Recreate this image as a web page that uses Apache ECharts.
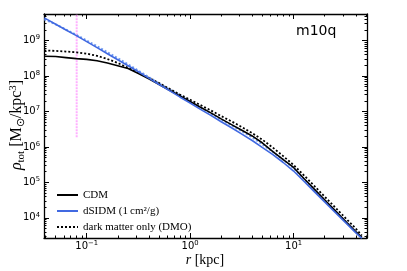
<!DOCTYPE html>
<html><head><meta charset="utf-8">
<script src="https://cdn.jsdelivr.net/npm/echarts@6/dist/echarts.min.js"></script>
<style>html,body{margin:0;padding:0;background:#fff}#c{width:407px;height:271px}</style>
</head><body><div id="c"></div>
<script>
// log10(r / kpc)
const logR = [-1.41,-1.3,-1.2,-1.1,-1.0,-0.9,-0.8,-0.7,-0.6,-0.5,-0.4,-0.3,-0.2,-0.1,0,0.1,0.2,0.3,0.4,0.5,0.6,0.7,0.8,0.9,1.0,1.1,1.2,1.3,1.4,1.5,1.6,1.66];
// log10(rho_tot / (Msun/kpc^3))
const logRhoCDM = [8.56,8.55,8.52,8.49,8.47,8.43,8.37,8.29,8.21,8.07,7.92,7.76,7.60,7.44,7.28,7.12,6.96,6.79,6.63,6.47,6.31,6.11,5.87,5.64,5.42,5.11,4.81,4.51,4.21,3.91,3.61,3.45];
const logRhoSIDM = [9.64,9.46,9.30,9.14,8.97,8.80,8.63,8.46,8.29,8.12,7.94,7.76,7.59,7.41,7.24,7.06,6.89,6.71,6.54,6.36,6.18,5.98,5.78,5.56,5.32,5.03,4.74,4.45,4.16,3.87,3.58,3.42];
const logRhoDMO = [8.72,8.71,8.69,8.67,8.63,8.57,8.48,8.37,8.23,8.09,7.95,7.80,7.64,7.48,7.33,7.18,7.03,6.87,6.72,6.56,6.39,6.20,5.98,5.74,5.49,5.20,4.90,4.60,4.30,4.00,3.70,3.50];
const logRhoSIDMDMO = [9.60,9.46,9.31,9.16,9.00,8.84,8.67,8.50,8.33,8.15,7.97,7.79,7.62,7.45,7.28,7.11,6.94,6.77,6.61,6.44,6.27,6.07,5.86,5.64,5.40,5.10,4.80,4.50,4.20,3.91,3.62,3.44];
const pinkLogR = [-1.097, -1.097];
const pinkLogRho = [6.27, 9.75];
const xMajor = [-1, 0, 1];
const yMajor = [4, 5, 6, 7, 8, 9];
const xRange = [-1.413, 1.71];
const yRange = [3.43, 9.75];
const legendNames = ['CDM', 'dSIDM (1\u2009cm\u00B2/g)', 'dark matter only (DMO)'];
const panelLabel = 'm10q';

function minorTicks(r) {
  const out = [];
  for (let n = Math.floor(r[0]); n <= Math.ceil(r[1]); n++) {
    for (let k = 2; k <= 9; k++) { const v = n + Math.log10(k); if (v > r[0] && v < r[1]) out.push(v); }
  }
  return out;
}
const supLabel = v => '{b|10}{s|' + String(v).replace('-', '\u2212') + '}';
const labelRich = {
  b: { fontSize: 10, fontFamily: 'DejaVu Sans', color: '#000', lineHeight: 13 },
  s: { fontSize: 6.8, fontFamily: 'DejaVu Sans', color: '#000', lineHeight: 8, verticalAlign: 'top' }
};
function mkAxis(pos, range, ticks, len, showLine, labels, margin) {
  return {
    type: 'value', position: pos, min: range[0], max: range[1],
    axisLine: { show: showLine, onZero: false, lineStyle: { color: '#000', width: 1.3 } },
    axisTick: { show: true, inside: true, length: len, customValues: ticks, lineStyle: { color: '#000', width: 1 } },
    axisLabel: labels ? { show: true, customValues: labels, formatter: supLabel, rich: labelRich, margin: margin } : { show: false },
    splitLine: { show: false }
  };
}
const xMinor = minorTicks(xRange), yMinor = minorTicks(yRange);
const zip = (a, b) => a.map((x, i) => [x, b[i]]);

const chart = echarts.init(document.getElementById('c'), null, { renderer: 'canvas' });
chart.setOption({
  animation: false,
  grid: { left: 44, top: 14, right: 40, bottom: 33 },
  xAxis: [
    mkAxis('bottom', xRange, xMajor, 5, true, xMajor, 2),
    mkAxis('bottom', xRange, xMinor, 2.5, false, null),
    mkAxis('top', xRange, xMajor, 5, true, null),
    mkAxis('top', xRange, xMinor, 2.5, false, null)
  ],
  yAxis: [
    mkAxis('left', yRange, yMajor, 5, true, yMajor, 4),
    mkAxis('left', yRange, yMinor, 2.5, false, null),
    mkAxis('right', yRange, yMajor, 5, true, null),
    mkAxis('right', yRange, yMinor, 2.5, false, null)
  ],
  legend: {
    data: legendNames, orient: 'vertical', left: 51, top: 184,
    itemWidth: 21, itemHeight: 2, itemGap: 4,
    itemStyle: { opacity: 0 },
    textStyle: { fontFamily: 'Liberation Serif', fontSize: 11, lineHeight: 12, color: '#000' }
  },
  series: [
    { name: 'pink', type: 'line', data: zip(pinkLogR, pinkLogRho), symbol: 'none', lineStyle: { color: '#ffb0ff', width: 2, type: [2, 1] }, z: 1 },
    { name: 'dSIDM DMO', type: 'line', data: zip(logR, logRhoSIDMDMO), symbol: 'none', lineStyle: { color: '#6f9af0', width: 2, type: [2, 2] }, z: 2 },
    { name: legendNames[2], type: 'line', data: zip(logR, logRhoDMO), symbol: 'none', lineStyle: { color: '#000', width: 1.8, type: [2, 2] }, itemStyle: { color: '#000' }, z: 3 },
    { name: legendNames[0], type: 'line', data: zip(logR, logRhoCDM), symbol: 'none', lineStyle: { color: '#000', width: 1.6 }, itemStyle: { color: '#000' }, z: 4 },
    { name: legendNames[1], type: 'line', data: zip(logR, logRhoSIDM), symbol: 'none', lineStyle: { color: '#4169e1', width: 1.6 }, itemStyle: { color: '#4169e1' }, z: 5 }
  ],
  graphic: [
    { type: 'text', x: 296, y: 24, style: { text: panelLabel, font: '14px "DejaVu Sans"', fill: '#000' } },
    { type: 'text', x: 205, y: 260, style: {
      text: '{i|r}{n| [kpc]}', align: 'center', verticalAlign: 'middle',
      rich: { i: { fontFamily: 'Liberation Serif', fontStyle: 'italic', fontSize: 14, fill: '#000' }, n: { fontFamily: 'Liberation Serif', fontSize: 14, fill: '#000' } } } },
    { type: 'text', x: 17, y: 125, rotation: Math.PI / 2, style: {
      text: '{i|\u03C1}{sub|tot}{n| [M}{sub|\u2299}{n|/kpc}{sup|3}{n|]}', align: 'center', verticalAlign: 'middle',
      rich: {
        i: { fontFamily: 'Liberation Serif', fontStyle: 'italic', fontSize: 16, fill: '#000', lineHeight: 19 },
        n: { fontFamily: 'Liberation Serif', fontSize: 16, fill: '#000', lineHeight: 19 },
        sub: { fontFamily: 'Liberation Serif', fontSize: 11, fill: '#000', lineHeight: 11, verticalAlign: 'bottom' },
        sup: { fontFamily: 'Liberation Serif', fontSize: 11, fill: '#000', lineHeight: 11, verticalAlign: 'top' }
      } } }
  ]
});
</script></body></html>
